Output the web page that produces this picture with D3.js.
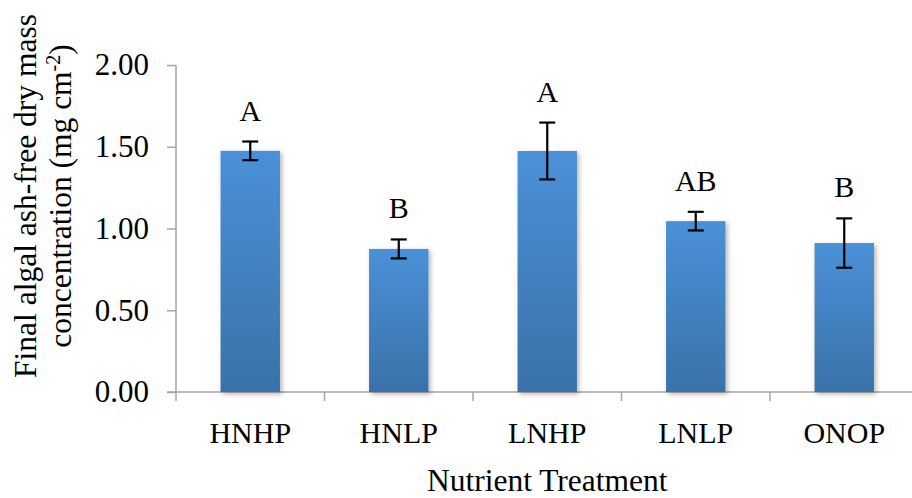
<!DOCTYPE html>
<html>
<head>
<meta charset="utf-8">
<script src="https://cdn.jsdelivr.net/npm/d3@7"></script>
<style>
  body { margin: 0; background: #fff; }
  svg { display: block; }
</style>
</head>
<body>
<svg id="chart" width="912" height="498"></svg>
<script>
const categories = ['HNHP', 'HNLP', 'LNHP', 'LNLP', 'ONOP'];
const means = [1.475, 0.875, 1.474, 1.045, 0.911];
const errors = [0.057, 0.058, 0.174, 0.057, 0.151];
const letters = ['A', 'B', 'A', 'AB', 'B'];
const yTicks = [0, 0.5, 1.0, 1.5, 2.0];

const FONT = 'Liberation Serif';
const svg = d3.select('#chart');
const plotLeft = 176, plotRight = 918.5, plotTop = 65, plotBottom = 392;

const x = d3.scaleBand()
  .domain(categories)
  .range([plotLeft, plotRight])
  .padding(0);

const y = d3.scaleLinear()
  .domain([0, 2])
  .range([plotBottom, plotTop]);

const barW = x.bandwidth() * 0.4;

// gradient + shadow like the excel default
const defs = svg.append('defs');
const grad = defs.append('linearGradient')
  .attr('id', 'barGrad')
  .attr('x1', 0).attr('y1', 0).attr('x2', 0).attr('y2', 1);
grad.append('stop').attr('offset', '0%').attr('stop-color', '#4a91d7');
grad.append('stop').attr('offset', '100%').attr('stop-color', '#3a71a9');

const shadow = defs.append('filter')
  .attr('id', 'shadow')
  .attr('x', '-20%').attr('y', '-10%').attr('width', '150%').attr('height', '130%');
shadow.append('feDropShadow')
  .attr('dx', 2).attr('dy', 2)
  .attr('stdDeviation', 2.5)
  .attr('flood-color', '#000')
  .attr('flood-opacity', 0.3);

// y axis
const yAxis = d3.axisLeft(y)
  .tickValues(yTicks)
  .tickFormat(d3.format('.2f'))
  .tickSize(9)
  .tickPadding(18);

const gy = svg.append('g')
  .attr('transform', `translate(${plotLeft},0)`)
  .call(yAxis);
gy.select('.domain').attr('stroke', '#a6a6a6').attr('stroke-width', 1.5)
  .attr('d', `M0,${plotTop}V${plotBottom}`);
gy.selectAll('.tick line').attr('stroke', '#a6a6a6').attr('stroke-width', 1.5);
gy.selectAll('.tick text')
  .attr('font-size', 31)
  .attr('fill', '#000');

// x axis: ticks at category boundaries
const gx = svg.append('g')
  .attr('transform', `translate(0,${plotBottom})`);
gx.append('line')
  .attr('x1', plotLeft - 9).attr('x2', plotRight)
  .attr('y1', 0).attr('y2', 0)
  .attr('stroke', '#a6a6a6').attr('stroke-width', 1.5);
gx.selectAll('line.tk')
  .data(categories)
  .enter()
  .append('line')
  .attr('class', 'tk')
  .attr('x1', d => x(d)).attr('x2', d => x(d))
  .attr('y1', 0).attr('y2', 9)
  .attr('stroke', '#a6a6a6').attr('stroke-width', 1.5);
gx.selectAll('text')
  .data(categories)
  .enter()
  .append('text')
  .attr('x', d => x(d) + x.bandwidth() / 2)
  .attr('y', 51)
  .attr('text-anchor', 'middle')
  .attr('font-size', 30)
  .text(d => d);

// bars
const data = categories.map((c, i) => ({ cat: c, mean: means[i], err: errors[i], letter: letters[i] }));

svg.append('g')
  .selectAll('rect')
  .data(data)
  .enter()
  .append('rect')
  .attr('x', d => x(d.cat) + (x.bandwidth() - barW) / 2)
  .attr('y', d => y(d.mean))
  .attr('width', barW)
  .attr('height', d => y(0) - y(d.mean))
  .attr('fill', 'url(#barGrad)')
  .attr('filter', 'url(#shadow)');

// error bars
const eb = svg.append('g')
  .attr('stroke', '#000')
  .attr('stroke-width', 2.2);
data.forEach(d => {
  const cx = x(d.cat) + x.bandwidth() / 2;
  eb.append('line')
    .attr('x1', cx).attr('x2', cx)
    .attr('y1', y(d.mean + d.err)).attr('y2', y(d.mean - d.err));
  [d.mean + d.err, d.mean - d.err].forEach(v => {
    eb.append('line')
      .attr('x1', cx - 8).attr('x2', cx + 8)
      .attr('y1', y(v)).attr('y2', y(v));
  });
});

// significance letters
svg.append('g')
  .selectAll('text')
  .data(data)
  .enter()
  .append('text')
  .attr('x', d => x(d.cat) + x.bandwidth() / 2)
  .attr('y', d => y(d.mean + d.err) - 21)
  .attr('text-anchor', 'middle')
  .attr('font-size', 30)
  .text(d => d.letter);

// axis titles
svg.append('text')
  .attr('x', (plotLeft + plotRight) / 2)
  .attr('y', 491)
  .attr('text-anchor', 'middle')
  .attr('font-size', 31.5)
  .text('Nutrient Treatment');

const yt = svg.append('text')
  .attr('transform', 'translate(0,196) rotate(-90)')
  .attr('text-anchor', 'middle')
  .attr('font-size', 31.5);
yt.append('tspan').attr('x', 0).attr('y', 36).text('Final algal ash-free dry mass');
yt.append('tspan').attr('x', 0).attr('y', 71).text('concentration (mg cm');
yt.append('tspan').attr('font-size', 20).attr('dy', -11).text('-2');
yt.append('tspan').attr('dy', 11).text(')');

// same serif face on every label
svg.selectAll('text').attr('font-family', FONT);
</script>
</body>
</html>
